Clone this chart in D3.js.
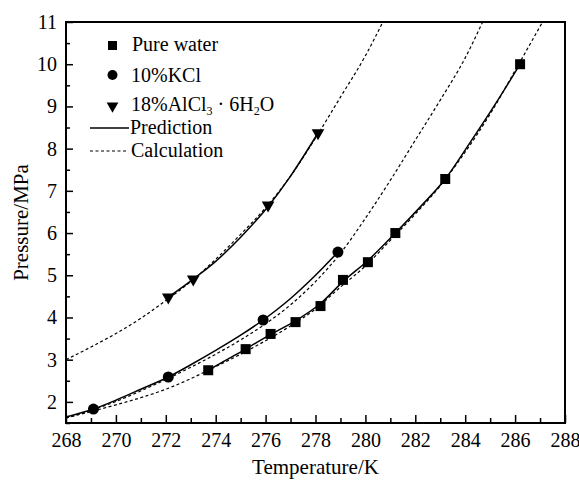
<!DOCTYPE html>
<html>
<head>
<meta charset="utf-8">
<script src="https://cdn.jsdelivr.net/npm/d3@7"></script>
<style>
  body { margin: 0; background: #fff; }
</style>
</head>
<body>
<div id="first_plot"></div>
<script>
// measured points
const waterT = [273.7, 275.2, 276.2, 277.2, 278.2, 279.1, 280.1, 281.2, 283.2, 286.2];
const waterP = [2.75, 3.25, 3.61, 3.89, 4.27, 4.89, 5.31, 6.0, 7.28, 10.0];
const kclT = [269.1, 272.1, 275.9, 278.9];
const kclP = [1.83, 2.59, 3.94, 5.55];
const alclT = [272.1, 273.1, 276.1, 278.1];
const alclP = [4.48, 4.91, 6.66, 8.37];

// prediction curves (solid)
const waterPredT = [273.7, 274.2, 275.2, 276.2, 277.2, 278.2, 279.1, 280.1, 281.2, 282.2, 283.2, 284.2, 285.2, 286.2];
const waterPredP = [2.75, 2.92, 3.25, 3.6, 3.92, 4.33, 4.85, 5.35, 6.0, 6.62, 7.28, 8.15, 9.05, 10.0];
const kclPredT = [268, 269.1, 270, 271, 272.1, 273, 274, 275, 275.9, 277, 278, 278.9];
const kclPredP = [1.64, 1.83, 2.04, 2.3, 2.59, 2.88, 3.22, 3.58, 3.94, 4.45, 5.0, 5.55];
const alclPredT = [272.1, 273.1, 274, 275, 276.1, 277, 278.1];
const alclPredP = [4.48, 4.91, 5.33, 5.9, 6.63, 7.35, 8.37];

// calculation curves (dashed)
const waterCalcT = [268, 269, 270, 271, 272, 273, 273.7, 275, 276, 277, 278, 279, 280, 281, 282, 283, 284, 285, 286, 287.1];
const waterCalcP = [1.62, 1.77, 1.93, 2.1, 2.3, 2.55, 2.75, 3.13, 3.45, 3.8, 4.2, 4.72, 5.22, 5.83, 6.45, 7.12, 7.92, 8.82, 9.85, 11.0];
const kclCalcT = [268, 269, 270, 271, 272, 273, 274, 275, 276, 277, 278, 279, 280, 281, 282, 283, 284, 284.7];
const kclCalcP = [1.62, 1.8, 2.01, 2.26, 2.53, 2.82, 3.13, 3.47, 3.85, 4.3, 4.85, 5.52, 6.35, 7.25, 8.2, 9.15, 10.15, 11.0];
const alclCalcT = [268, 269, 270, 271, 272, 273, 274, 275, 276, 277, 278, 279, 280, 280.7];
const alclCalcP = [3.0, 3.3, 3.62, 3.98, 4.4, 4.85, 5.38, 5.97, 6.6, 7.35, 8.25, 9.22, 10.2, 11.0];

const xTicks = [268, 270, 272, 274, 276, 278, 280, 282, 284, 286, 288];
const yTicks = [2, 3, 4, 5, 6, 7, 8, 9, 10, 11];

const legendLabels = ["Pure water", "10%KCl", "18%AlCl3·6H2O", "Prediction", "Calculation"];

const FONT = "Liberation Serif";

function zip(a, b) { return a.map((v, i) => ({x: v, y: b[i]})); }

function main(){
  const margin = {top: 22, right: 14, bottom: 60, left: 66};
  const width = 579 - margin.left - margin.right;
  const height = 483 - margin.top - margin.bottom;

  var root = d3.select("#first_plot")
      .append("svg")
      .attr("width", 579)
      .attr("height", 483);
  var svg = root.append("g")
      .attr("transform", `translate(${margin.left}, ${margin.top})`);

  const x = d3.scaleLinear().domain([268, 288]).range([0, width]);
  const y = d3.scaleLinear().domain([1.5, 11]).range([height, 0]);

  // minor ticks
  svg.append("g")
     .attr("transform", `translate(0, ${height})`)
     .call(d3.axisBottom(x).tickValues(d3.range(269, 288, 2)).tickSize(-5).tickFormat(""))
     .call(g => g.select(".domain").remove());
  svg.append("g")
     .call(d3.axisLeft(y).tickValues(d3.range(1.5, 11, 1)).tickSize(-4).tickFormat(""))
     .call(g => g.select(".domain").remove());

  // major ticks
  svg.append("g")
     .attr("transform", `translate(0, ${height})`)
     .attr("font-family", FONT)
     .call(d3.axisBottom(x).tickValues(xTicks).tickSize(-8).tickPadding(5).tickFormat(d3.format("d")))
     .call(g => g.select(".domain").remove())
     .selectAll("text").attr("dy", "0.95em");
  svg.append("g")
     .call(d3.axisLeft(y).tickValues(yTicks).tickSize(-7).tickPadding(9).tickFormat(d3.format("d")))
     .call(g => g.select(".domain").remove());
  svg.selectAll(".tick text")
     .attr("font-family", FONT).attr("font-size", 20).attr("fill", "#000");
  svg.selectAll(".tick line").attr("stroke", "#000").attr("stroke-width", 1.5);

  // frame
  svg.append("rect")
     .attr("width", width).attr("height", height)
     .attr("fill", "none").attr("stroke", "#000").attr("stroke-width", 2);

  svg.append("clipPath").attr("id", "clip")
     .append("rect").attr("width", width).attr("height", height);

  const line = d3.line().x(d => x(d.x)).y(d => y(d.y)).curve(d3.curveMonotoneX);
  const curves = svg.append("g").attr("clip-path", "url(#clip)");

  [[waterCalcT, waterCalcP], [kclCalcT, kclCalcP], [alclCalcT, alclCalcP]].forEach(c => {
    curves.append("path").datum(zip(c[0], c[1]))
      .attr("fill", "none").attr("stroke", "#000").attr("stroke-width", 1.2)
      .attr("stroke-dasharray", "3,2.5").attr("d", line);
  });
  [[waterPredT, waterPredP], [kclPredT, kclPredP], [alclPredT, alclPredP]].forEach(c => {
    curves.append("path").datum(zip(c[0], c[1]))
      .attr("fill", "none").attr("stroke", "#000").attr("stroke-width", 1.5).attr("d", line);
  });

  // markers
  svg.append("g").selectAll("rect").data(zip(waterT, waterP)).join("rect")
     .attr("x", d => x(d.x) - 5).attr("y", d => y(d.y) - 5)
     .attr("width", 10).attr("height", 10).attr("fill", "#000");
  svg.append("g").selectAll("circle").data(zip(kclT, kclP)).join("circle")
     .attr("cx", d => x(d.x)).attr("cy", d => y(d.y)).attr("r", 5.5).attr("fill", "#000");
  const tri = d3.symbol().type(d3.symbolTriangle).size(70);
  svg.append("g").selectAll("path").data(zip(alclT, alclP)).join("path")
     .attr("d", tri)
     .attr("transform", d => `translate(${x(d.x)}, ${y(d.y)}) rotate(180)`)
     .attr("fill", "#000");

  // legend (page coords)
  const lg = root.append("g");
  lg.append("rect").attr("x", 108).attr("y", 41).attr("width", 9).attr("height", 9);
  lg.append("circle").attr("cx", 112.5).attr("cy", 75).attr("r", 5);
  lg.append("path").attr("d", d3.symbol().type(d3.symbolTriangle).size(60))
    .attr("transform", "translate(112.5, 106) rotate(180)");
  lg.append("line").attr("x1", 90).attr("x2", 129).attr("y1", 128).attr("y2", 128)
    .attr("stroke", "#000").attr("stroke-width", 1.5);
  lg.append("line").attr("x1", 90).attr("x2", 128).attr("y1", 151).attr("y2", 151)
    .attr("stroke", "#000").attr("stroke-width", 1.2).attr("stroke-dasharray", "3,2.5");

  const lt = (txt, yy, xx) => lg.append("text").attr("x", xx).attr("y", yy)
    .attr("font-family", FONT).attr("font-size", 20).text(txt);
  lt(legendLabels[0], 51, 132);
  lt(legendLabels[1], 82, 131);
  const t3 = lg.append("text").attr("x", 131).attr("y", 111)
    .attr("font-family", FONT).attr("font-size", 20);
  t3.append("tspan").text("18%AlCl");
  t3.append("tspan").attr("dy", 4).attr("font-size", 12).text("3");
  t3.append("tspan").attr("dy", -4).text(" · 6H");
  t3.append("tspan").attr("dy", 4).attr("font-size", 12).text("2");
  t3.append("tspan").attr("dy", -4).text("O");
  lt(legendLabels[3], 134, 130);
  lt(legendLabels[4], 157, 131);

  // axis titles
  root.append("text")
    .attr("x", margin.left + width / 2).attr("y", 474)
    .attr("text-anchor", "middle").attr("font-family", FONT).attr("font-size", 21)
    .text("Temperature/K");
  root.append("text")
    .attr("transform", `translate(28, ${margin.top + height / 2}) rotate(-90)`)
    .attr("text-anchor", "middle").attr("font-family", FONT).attr("font-size", 21)
    .text("Pressure/MPa");
};

main();
</script>
</body>
</html>
